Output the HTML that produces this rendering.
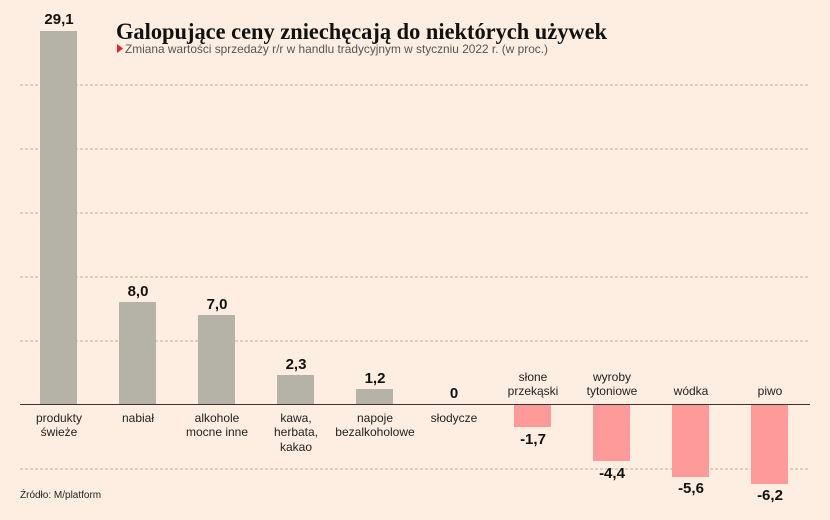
<!DOCTYPE html>
<html><head><meta charset="utf-8"><style>
body{margin:0;background:#fdeee1;}
svg{display:block}
</style></head><body>
<svg width="830" height="520" viewBox="0 0 830 520" font-family="Liberation Sans, sans-serif">
<rect width="830" height="520" fill="#fdeee1"/>
<g stroke="#b8b0a6" stroke-dasharray="3,2" stroke-width="1">
<line x1="20" y1="85" x2="810" y2="85"/>
<line x1="20" y1="149" x2="810" y2="149"/>
<line x1="20" y1="213" x2="810" y2="213"/>
<line x1="20" y1="277" x2="810" y2="277"/>
<line x1="20" y1="341" x2="810" y2="341"/>
<line x1="20" y1="469" x2="810" y2="469"/>
</g>
<text x="116" y="39" font-family="Liberation Serif, serif" font-weight="bold" font-size="23" fill="#111" textLength="491" lengthAdjust="spacingAndGlyphs">Galopujące ceny zniechęcają do niektórych używek</text>
<path d="M117,44 L123,48.5 L117,53 Z" fill="#e8202a"/>
<text x="125" y="53" font-size="12" fill="#555" textLength="423" lengthAdjust="spacingAndGlyphs">Zmiana wartości sprzedaży r/r w handlu tradycyjnym w styczniu 2022 r. (w proc.)</text>
<g fill="#b5b3a8">
<rect x="40" y="31" width="37" height="373"/>
<rect x="119" y="302" width="37" height="102"/>
<rect x="198" y="315" width="37" height="89"/>
<rect x="277" y="375" width="37" height="29"/>
<rect x="356" y="389" width="37" height="15"/>
</g>
<g fill="#ff9a9a">
<rect x="514" y="405" width="37" height="22"/>
<rect x="593" y="405" width="37" height="56"/>
<rect x="672" y="405" width="37" height="72"/>
<rect x="751" y="405" width="37" height="79"/>
</g>
<line x1="20" y1="404.5" x2="810" y2="404.5" stroke="#3a3330" stroke-width="1"/>
<g font-size="15" font-weight="bold" fill="#111" text-anchor="middle">
<text x="59" y="24">29,1</text>
<text x="138" y="296">8,0</text>
<text x="217" y="309">7,0</text>
<text x="296" y="369">2,3</text>
<text x="375" y="383">1,2</text>
<text x="454" y="398">0</text>
<text x="533" y="444">-1,7</text>
<text x="612" y="478">-4,4</text>
<text x="691" y="493">-5,6</text>
<text x="770" y="500">-6,2</text>
</g>
<g font-size="12" fill="#222" text-anchor="middle">
<text x="59" y="422">produkty</text><text x="59" y="436">świeże</text>
<text x="138" y="422">nabiał</text>
<text x="217" y="422">alkohole</text><text x="217" y="436">mocne inne</text>
<text x="296" y="422">kawa,</text><text x="296" y="436">herbata,</text><text x="296" y="451">kakao</text>
<text x="375" y="422">napoje</text><text x="375" y="436">bezalkoholowe</text>
<text x="454" y="422">słodycze</text>
<text x="533" y="381">słone</text><text x="533" y="395">przekąski</text>
<text x="612" y="381">wyroby</text><text x="612" y="395">tytoniowe</text>
<text x="691" y="395">wódka</text>
<text x="770" y="395">piwo</text>
</g>
<text x="20" y="498" font-size="10" fill="#222">Źródło: M/platform</text>
</svg>
</body></html>
